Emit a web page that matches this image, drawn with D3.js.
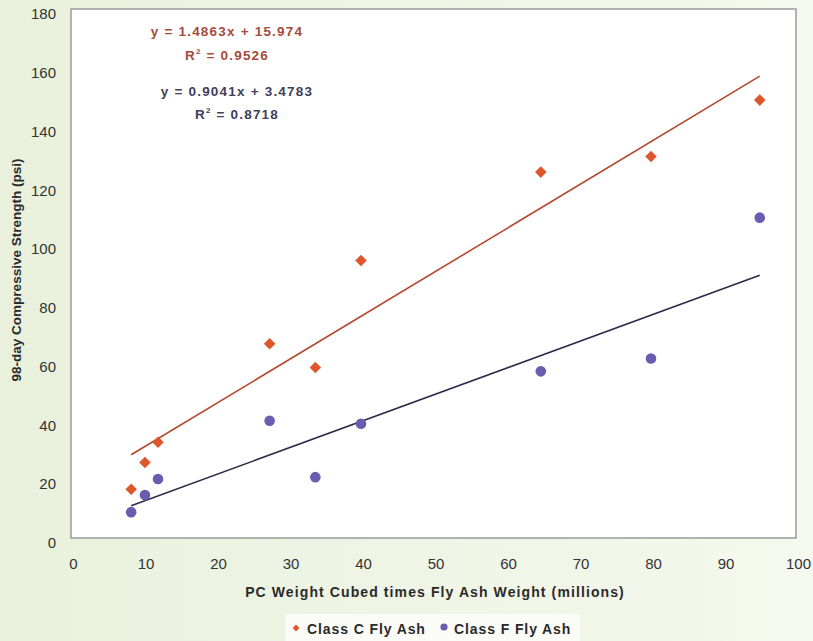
<!DOCTYPE html>
<html lang="en">
<head>
<meta charset="UTF-8" />
<script src="https://cdn.jsdelivr.net/npm/d3@7"></script>
<style>
    body { margin: 0; }
    svg { display: block; }
    .tick text { font-family: "Liberation Sans Narrow", "Arial Narrow", "Liberation Sans", Arial, sans-serif; font-size: 15px; fill: #333; }
</style>
</head>
<body>
<div id="chart"></div>
<script>
    // data
    var xValues = [8.3, 10.2, 12, 27.4, 33.7, 40, 64.8, 80, 95];
    var classC = [16.6, 25.7, 32.6, 66.1, 58, 94.4, 124.5, 129.8, 149];
    var classF = [8.8, 14.6, 20.1, 39.9, 20.7, 38.9, 56.7, 61.1, 109];
    var fitC = { slope: 1.4863, intercept: 15.974, r2: "0.9526" };
    var fitF = { slope: 0.9041, intercept: 3.4783, r2: "0.8718" };
    var xTicks = [0, 10, 20, 30, 40, 50, 60, 70, 80, 90, 100];
    var yTicks = [0, 20, 40, 60, 80, 100, 120, 140, 160, 180];
    var seriesNames = ["Class C Fly Ash", "Class F Fly Ash"];

    var W = 813, H = 641;
    var plot = { left: 71, right: 796, top: 9, bottom: 538 };

    var cMark = "#e0562c", cLine = "#b4472c", cText = "#a64a3c";
    var fMark = "#6a5db0", fLine = "#2b2a48", fText = "#3f3e5c";

    var svg = d3.select("#chart").append("svg")
        .attr("width", W).attr("height", H);

    var defs = svg.append("defs");
    var grad = defs.append("linearGradient").attr("id", "bg")
        .attr("x1", "0").attr("y1", "0").attr("x2", "1").attr("y2", "0");
    grad.append("stop").attr("offset", "0").attr("stop-color", "#e9f1dc");
    grad.append("stop").attr("offset", "1").attr("stop-color", "#f5f8ee");

    svg.append("rect").attr("width", W).attr("height", H).attr("fill", "url(#bg)");

    var x = d3.scaleLinear().domain([0, 100]).range([plot.left, plot.right]);
    var y = d3.scaleLinear().domain([0, 180]).range([plot.bottom, plot.top]);

    // plot area
    svg.append("rect")
        .attr("x", plot.left).attr("y", plot.top)
        .attr("width", plot.right - plot.left).attr("height", plot.bottom - plot.top)
        .attr("fill", "#fff").attr("stroke", "#9a9a9a").attr("stroke-width", 1.5);

    // axes (no tick marks, no domain line)
    var xAxis = svg.append("g")
        .attr("transform", "translate(0," + (plot.bottom + 14) + ")")
        .call(d3.axisBottom(x).tickValues(xTicks).tickSize(0));
    xAxis.select(".domain").remove();
    xAxis.selectAll("text").attr("dy", "0.9em").attr("dx", 2);

    var yAxis = svg.append("g")
        .attr("transform", "translate(" + (plot.left - 12) + ",0)")
        .call(d3.axisLeft(y).tickValues(yTicks).tickSize(0));
    yAxis.select(".domain").remove();
    yAxis.selectAll("text").attr("dy", "0.65em");

    // axis titles
    svg.append("text")
        .attr("x", 435).attr("y", 597)
        .attr("text-anchor", "middle")
        .attr("font-family", "Liberation Sans, Arial, sans-serif")
        .attr("font-weight", "bold").attr("font-size", 14)
        .attr("letter-spacing", "1.1px")
        .attr("fill", "#2a2a2a")
        .text("PC Weight Cubed times Fly Ash Weight (millions)");

    svg.append("text")
        .attr("transform", "translate(21,270) rotate(-90)")
        .attr("text-anchor", "middle")
        .attr("font-family", "Liberation Sans, Arial, sans-serif")
        .attr("font-weight", "bold").attr("font-size", 13.5)
        .attr("fill", "#2a2a2a")
        .text("98-day Compressive Strength (psi)");

    // trend lines
    var xMin = d3.min(xValues), xMax = d3.max(xValues);
    [[fitC, cLine], [fitF, fLine]].forEach(function (p) {
        var f = p[0];
        svg.append("line")
            .attr("x1", x(xMin)).attr("y1", y(f.slope * xMin + f.intercept))
            .attr("x2", x(xMax)).attr("y2", y(f.slope * xMax + f.intercept))
            .attr("stroke", p[1]).attr("stroke-width", 1.6);
    });

    // points
    var diamond = d3.symbol().type(d3.symbolDiamond2).size(85);
    svg.append("g").selectAll("path")
        .data(xValues)
        .enter().append("path")
        .attr("d", diamond)
        .attr("transform", function (d, i) { return "translate(" + x(d) + "," + y(classC[i]) + ")"; })
        .attr("fill", cMark);

    svg.append("g").selectAll("circle")
        .data(xValues)
        .enter().append("circle")
        .attr("cx", function (d) { return x(d); })
        .attr("cy", function (d, i) { return y(classF[i]); })
        .attr("r", 5.3)
        .attr("fill", fMark);

    // equations
    var eqs = [
        { f: fitC, color: cText, cx: 227, y1: 36, y2: 60 },
        { f: fitF, color: fText, cx: 237, y1: 96, y2: 119 }
    ];
    eqs.forEach(function (e) {
        svg.append("text")
            .attr("x", e.cx).attr("y", e.y1)
            .attr("text-anchor", "middle")
            .attr("font-family", "Liberation Sans, Arial, sans-serif")
            .attr("font-weight", "bold").attr("font-size", 13.5)
            .attr("letter-spacing", "1.2px")
            .attr("fill", e.color)
            .text("y = " + e.f.slope + "x + " + e.f.intercept);
        var t = svg.append("text")
            .attr("x", e.cx).attr("y", e.y2)
            .attr("text-anchor", "middle")
            .attr("font-family", "Liberation Sans, Arial, sans-serif")
            .attr("font-weight", "bold").attr("font-size", 13.5)
            .attr("letter-spacing", "1.2px")
            .attr("fill", e.color);
        t.append("tspan").text("R");
        t.append("tspan").attr("font-size", 8).attr("dy", -6).text("2");
        t.append("tspan").attr("dy", 6).text(" = " + e.f.r2);
    });

    // legend
    svg.append("rect")
        .attr("x", 285).attr("y", 614).attr("width", 295).attr("height", 27)
        .attr("fill", "#fbfcf8");
    var leg = svg.append("g").attr("transform", "translate(296,628)");
    leg.append("path")
        .attr("d", d3.symbol().type(d3.symbolDiamond2).size(30))
        .attr("fill", cMark);
    leg.append("text").attr("x", 11).attr("y", 6)
        .attr("font-family", "Liberation Sans, Arial, sans-serif")
        .attr("font-weight", "bold").attr("font-size", 14)
        .attr("letter-spacing", "0.9px")
        .attr("fill", "#2a2a2a").text(seriesNames[0]);
    leg.append("circle").attr("cx", 148).attr("cy", -1).attr("r", 3.6).attr("fill", fMark);
    leg.append("text").attr("x", 158).attr("y", 6)
        .attr("font-family", "Liberation Sans, Arial, sans-serif")
        .attr("font-weight", "bold").attr("font-size", 14)
        .attr("letter-spacing", "0.9px")
        .attr("fill", "#2a2a2a").text(seriesNames[1]);
</script>
</body>
</html>
